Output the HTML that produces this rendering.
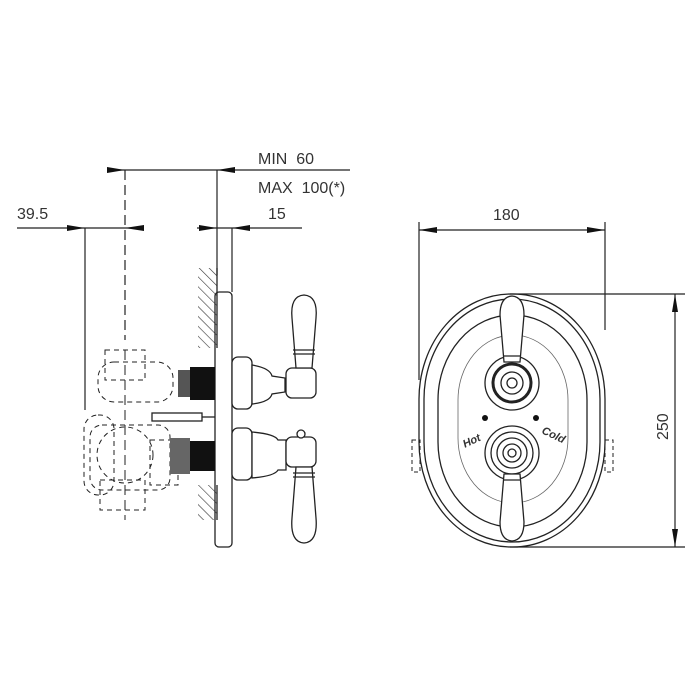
<!DOCTYPE html>
<html><head><meta charset="utf-8"><style>html,body{margin:0;padding:0;background:#fff}svg{display:block}text{font-family:"Liberation Sans",sans-serif;fill:#333;white-space:pre}</style></head>
<body>
<svg width="700" height="700" viewBox="0 0 700 700" xmlns="http://www.w3.org/2000/svg">
<defs>
<pattern id="h" width="7" height="7" patternUnits="userSpaceOnUse" patternTransform="rotate(-45)"><line x1="0" y1="0" x2="0" y2="7" stroke="#333" stroke-width="1.2"/></pattern>
</defs>
<g stroke="#222" stroke-width="1.2" fill="none">
<line x1="107" y1="170" x2="350" y2="170"/>
<line x1="17" y1="228" x2="144" y2="228"/>
<line x1="197" y1="228" x2="302" y2="228"/>
<line x1="85" y1="228" x2="85" y2="410"/>
<line x1="125" y1="170" x2="125" y2="340" stroke-dasharray="10,5"/>
<line x1="217" y1="170" x2="217" y2="275"/>
<line x1="232" y1="228" x2="232" y2="292"/>
</g>
<g fill="#111">
<polygon points="107,167 125,170 107,173"/>
<polygon points="235,167 217,170 235,173"/>
<polygon points="67,225 85,228 67,231"/>
<polygon points="144,225 125,228 144,231"/>
<polygon points="199,225 217,228 199,231"/>
<polygon points="250,225 232,228 250,231"/>
</g>
<text x="258" y="164" font-size="16">MIN  60</text>
<text x="258" y="193" font-size="16">MAX  100(*)</text>
<text x="17" y="219" font-size="16">39.5</text>
<text x="268" y="219" font-size="16">15</text>

<rect x="198" y="268" width="19" height="80" fill="url(#h)"/>
<rect x="198" y="485" width="19" height="35" fill="url(#h)"/>
<g stroke="#222" stroke-width="1.3" fill="none">
<line x1="217" y1="268" x2="217" y2="348"/>
<line x1="217" y1="485" x2="217" y2="520"/>
<rect x="215" y="292" width="17" height="255" rx="4"/>
<g stroke-dasharray="5,4" stroke-width="1">
<line x1="125" y1="350" x2="125" y2="520" stroke-dasharray="10,5"/>
<rect x="105" y="350" width="40" height="30"/>
<rect x="98" y="362" width="75" height="40" rx="16"/>
<circle cx="125" cy="455" r="28"/>
<rect x="90" y="425" width="80" height="65" rx="12"/>
<rect x="84" y="415" width="30" height="80" rx="14"/>
<rect x="100" y="480" width="45" height="30"/>
<rect x="150" y="440" width="28" height="45"/>
</g>
<rect x="152" y="413" width="50" height="8"/>
<line x1="202" y1="417" x2="215" y2="417"/>
</g>
<g fill="#111">
<rect x="190" y="367" width="25" height="33"/>
<rect x="178" y="370" width="12" height="27" fill="#555"/>
<rect x="190" y="441" width="25" height="30"/>
<rect x="170" y="438" width="20" height="36" fill="#666"/>
</g>
<g stroke="#222" stroke-width="1.3" fill="#fff">
<rect x="232" y="357" width="20" height="52" rx="6"/>
<path d="M252 365 Q270 368 272 376 L285 378 L285 392 L272 394 Q270 402 252 404 Z"/>
<rect x="286" y="368" width="30" height="30" rx="6"/>
<path d="M296 368 L292 318 Q290 296 304 295 Q318 296 316 318 L312 368 Z"/>
<line x1="293" y1="350" x2="315" y2="350"/>
<line x1="293" y1="354" x2="315" y2="354"/>
<rect x="232" y="428" width="20" height="52" rx="6"/>
<path d="M252 432 Q275 434 278 440 L286 440 L286 470 L278 470 Q275 476 252 478 Z"/>
<rect x="286" y="437" width="30" height="30" rx="6"/>
<circle cx="301" cy="434" r="4"/>
<path d="M296 467 L292 518 Q290 542 304 543 Q318 542 316 518 L312 467 Z"/>
<line x1="293" y1="473" x2="315" y2="473"/>
<line x1="293" y1="477" x2="315" y2="477"/>
</g>

<g stroke="#222" stroke-width="1.2" fill="none">
<line x1="419" y1="230" x2="605" y2="230"/>
<line x1="419" y1="222" x2="419" y2="380"/>
<line x1="605" y1="222" x2="605" y2="330"/>
<line x1="510" y1="294" x2="685" y2="294"/>
<line x1="510" y1="547" x2="685" y2="547"/>
<line x1="675" y1="294" x2="675" y2="547"/>
</g>
<g fill="#111">
<polygon points="437,227 419,230 437,233"/>
<polygon points="587,227 605,230 587,233"/>
<polygon points="672,312 675,294 678,312"/>
<polygon points="672,529 675,547 678,529"/>
</g>
<text x="493" y="220" font-size="16">180</text>
<text x="0" y="0" font-size="16" transform="translate(668,440) rotate(-90)">250</text>

<g stroke="#222" stroke-width="1.3" fill="none">
<rect x="419" y="294" width="186" height="253" rx="92" ry="105"/>
<rect x="424" y="299" width="176" height="243" rx="88" ry="100"/>
<rect x="438" y="315" width="149" height="212" rx="74" ry="85"/>
<rect x="458" y="335" width="110" height="168" rx="55" ry="65" stroke-width="0.8" stroke="#666"/>
<rect x="412" y="440" width="8" height="32" stroke-dasharray="4,3" stroke-width="1"/>
<rect x="605" y="440" width="8" height="32" stroke-dasharray="4,3" stroke-width="1"/>
<circle cx="512" cy="383" r="27" fill="#fff"/>
<circle cx="512" cy="383" r="19" stroke-width="3"/>
<circle cx="512" cy="383" r="11"/>
<circle cx="512" cy="383" r="5"/>
<circle cx="512" cy="453" r="27" fill="#fff"/>
<circle cx="512" cy="453" r="21"/>
<circle cx="512" cy="453" r="15"/>
<circle cx="512" cy="453" r="9"/>
<circle cx="512" cy="453" r="4"/>
</g>
<g stroke="#222" stroke-width="1.3" fill="#fff">
<path d="M504 362 L500 315 Q500 297 512 296 Q524 297 524 315 L520 362 Z"/>
<line x1="503" y1="356" x2="521" y2="356"/>
<path d="M504 474 L500 522 Q500 540 512 541 Q524 540 524 522 L520 474 Z"/>
<line x1="503" y1="480" x2="521" y2="480"/>
</g>
<circle cx="485" cy="418" r="3" fill="#111"/>
<circle cx="536" cy="418" r="3" fill="#111"/>
<text x="462" y="445" font-size="11" font-style="italic" font-weight="bold" font-family="Liberation Serif" transform="rotate(-25 470 440)">Hot</text>
<text x="541" y="437" font-size="11" font-style="italic" font-weight="bold" font-family="Liberation Serif" transform="rotate(25 550 435)">Cold</text>
</svg>
</body></html>
